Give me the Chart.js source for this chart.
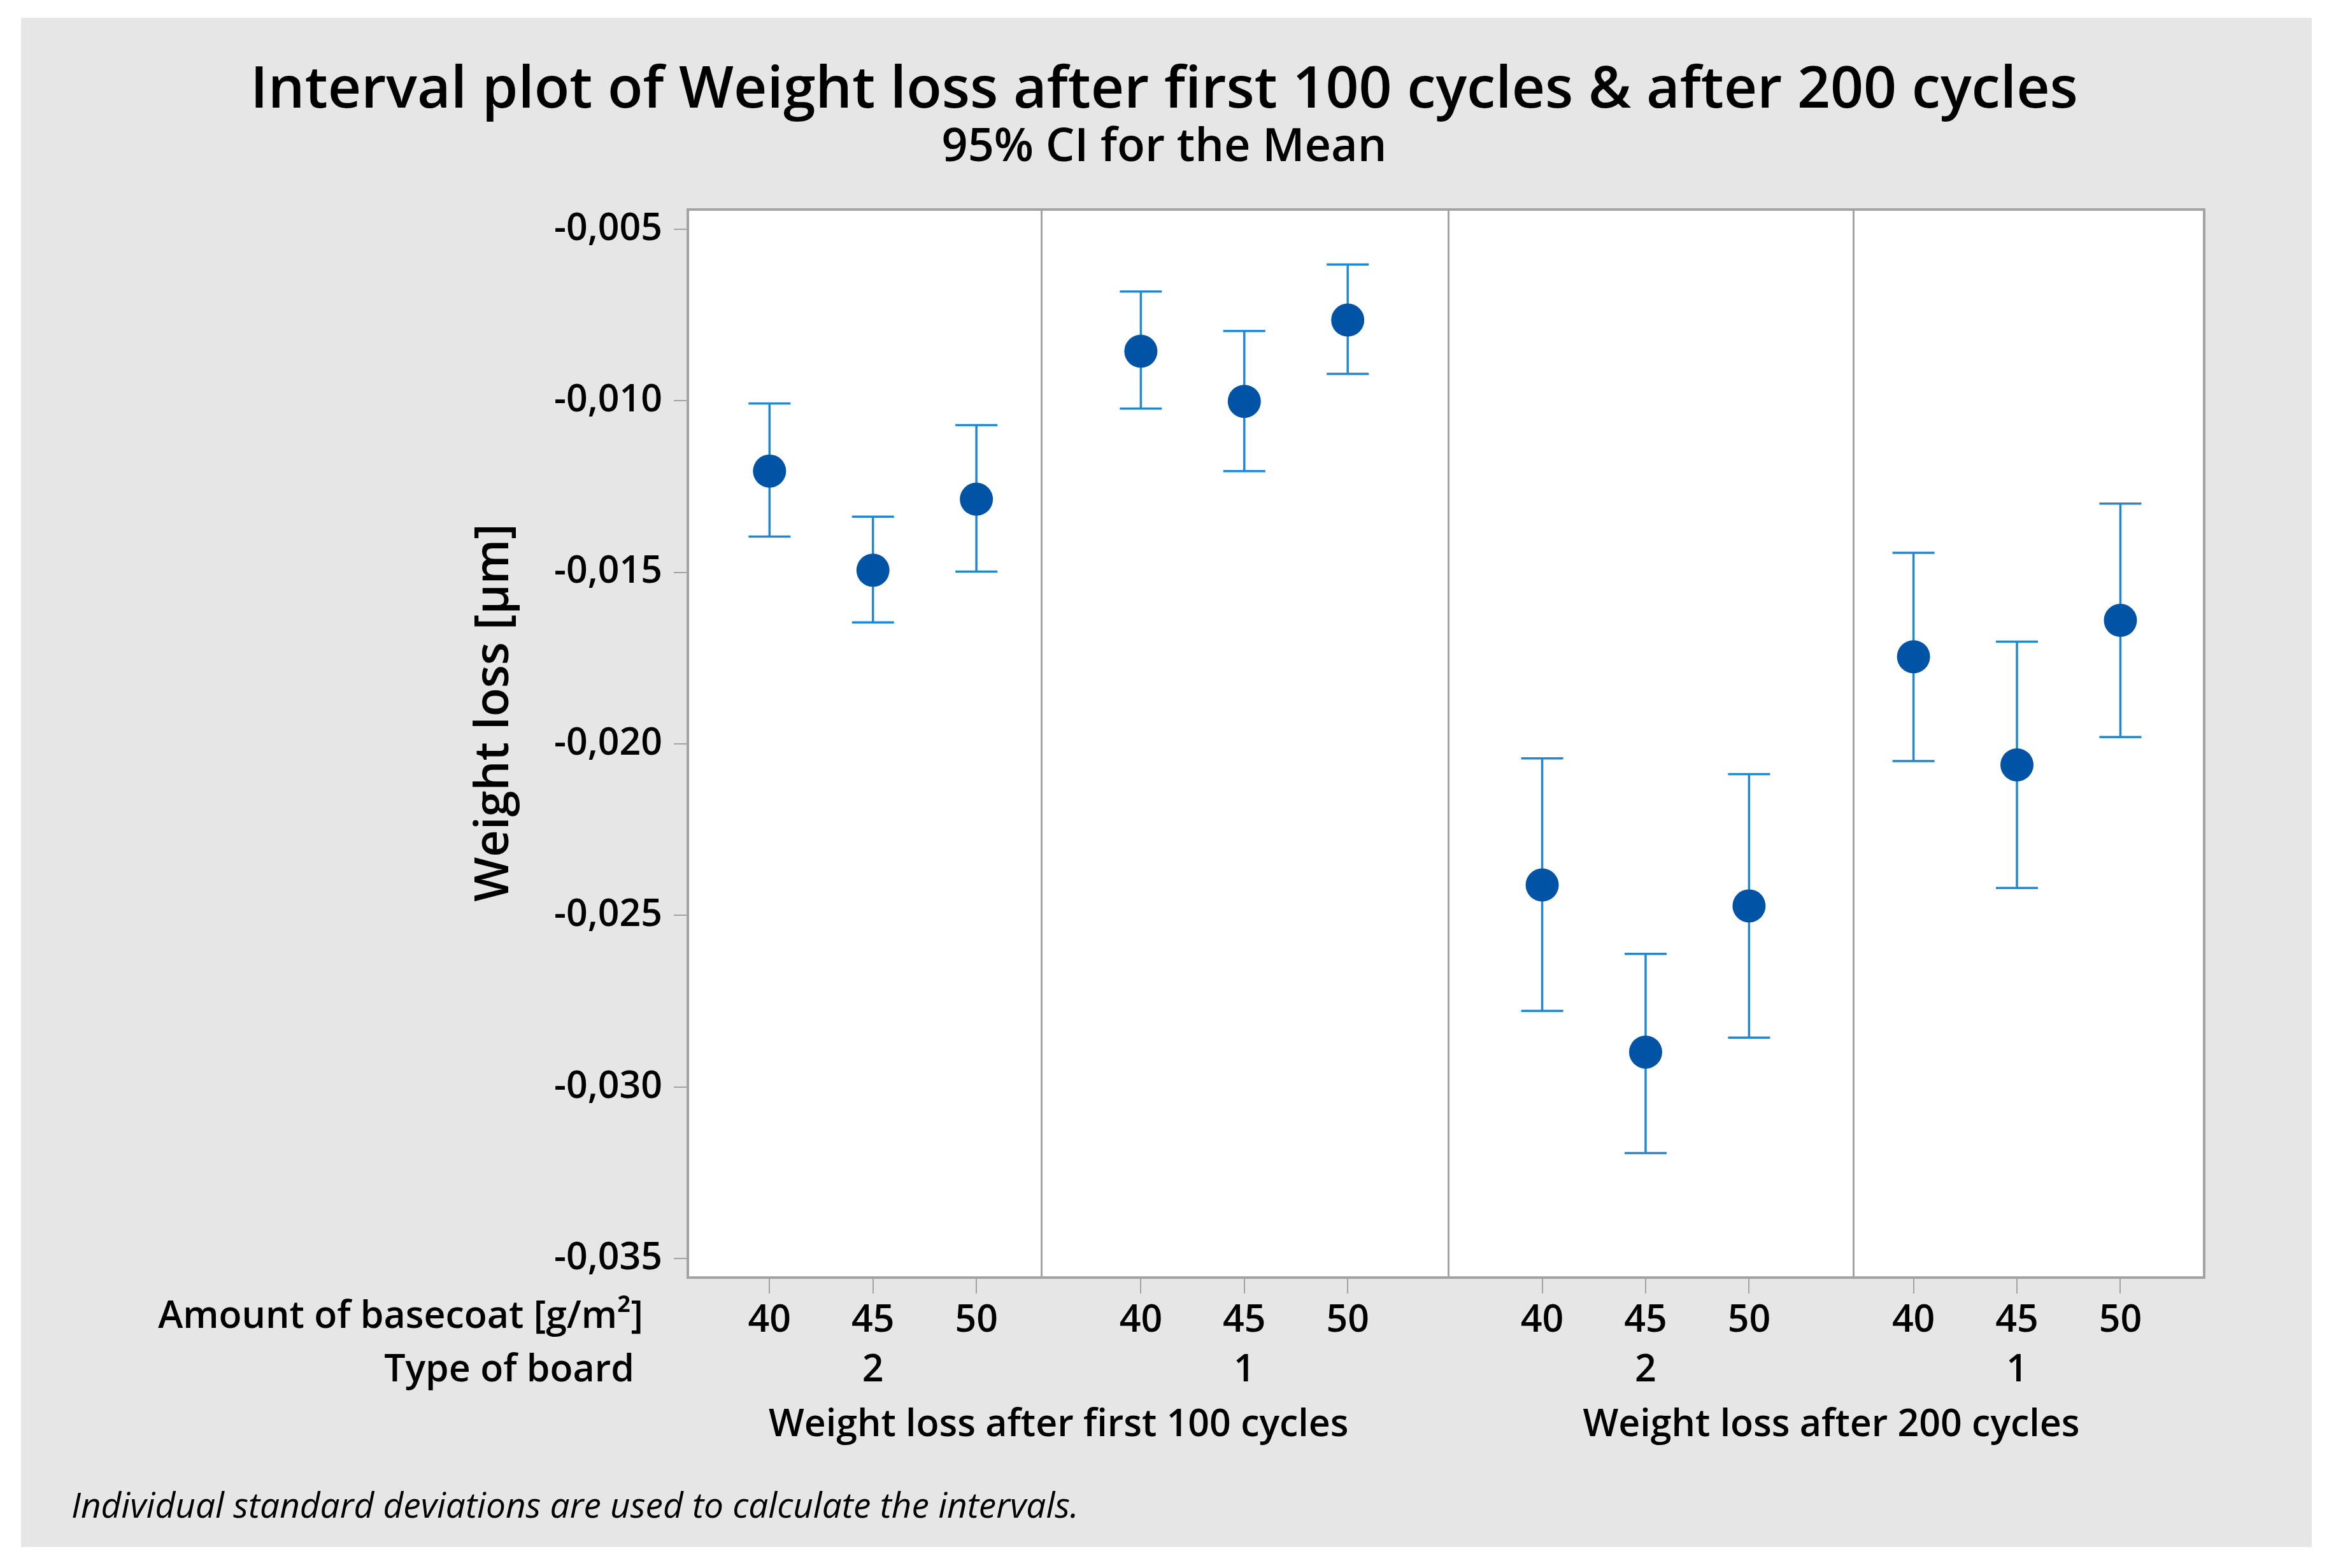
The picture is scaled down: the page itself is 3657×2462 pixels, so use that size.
<!DOCTYPE html>
<html>
<head>
<meta charset="utf-8">
<script src="https://cdn.jsdelivr.net/npm/chart.js@4.4.1/dist/chart.umd.min.js"></script>
<style>
  html, body { margin: 0; padding: 0; background: #ffffff; }
  canvas { display: block; }
</style>
</head>
<body>
<canvas id="intervalChart" width="3657" height="2462"></canvas>
<script>
// ---- data ----
const basecoatLevels = ["40", "45", "50"];
const boardTypes = ["2", "1", "2", "1"];
const phaseLabels = ["Weight loss after first 100 cycles", "Weight loss after 200 cycles"];

// mean and 95% CI per cell (order: phase 100 board 2, phase 100 board 1, phase 200 board 2, phase 200 board 1; basecoat 40/45/50)
const meanLoss = [-0.01205, -0.01494, -0.01287, -0.00856, -0.01002, -0.00765, -0.02411, -0.02898, -0.02472, -0.01746, -0.02061, -0.01640];
const ciUpper = [-0.01008, -0.01338, -0.01071, -0.00682, -0.00797, -0.00603, -0.02042, -0.02612, -0.02088, -0.01443, -0.01702, -0.01300];
const ciLower = [-0.01396, -0.01646, -0.01498, -0.01023, -0.01205, -0.00922, -0.02778, -0.03192, -0.02856, -0.02050, -0.02420, -0.01980];

const yTicks = [-0.005, -0.010, -0.015, -0.020, -0.025, -0.030, -0.035];

// ---- layout (x units = spacing between basecoat levels) ----
const groupOffsets = [0, 3.59, 7.47, 11.06];
const panelDividers = [2.63, 6.56, 10.48];
const xRange = { min: -0.79, max: 13.87 };
const yRange = { min: -0.03555, max: -0.00443 };

const FONT = "'Open Sans', 'Noto Sans', 'DejaVu Sans', sans-serif";
const MARKER = "#0053a5";
const BAR = "#2187d0";
const FRAME = "#a3a3a3";

const xPos = [];
groupOffsets.forEach(off => basecoatLevels.forEach((_, j) => xPos.push(off + j)));
const points = meanLoss.map((m, i) => ({ x: xPos[i], y: m }));

const backgroundPlugin = {
    id: "minitabBackground",
    beforeDraw(chart) {
        const { ctx, chartArea } = chart;
        ctx.save();
        ctx.fillStyle = "#ffffff";
        ctx.fillRect(0, 0, chart.width, chart.height);
        ctx.fillStyle = "#e6e6e6";
        ctx.fillRect(33, 28, 3597, 2401);
        ctx.fillStyle = "#ffffff";
        ctx.fillRect(chartArea.left, chartArea.top, chartArea.right - chartArea.left, chartArea.bottom - chartArea.top);
        ctx.restore();
    }
};

const intervalPlugin = {
    id: "intervalBars",
    beforeDatasetsDraw(chart) {
        const { ctx, chartArea, scales } = chart;
        const x = scales.x, y = scales.y;
        ctx.save();
        // panel dividers
        ctx.strokeStyle = FRAME;
        ctx.lineWidth = 3;
        panelDividers.forEach(d => {
            const px = Math.round(x.getPixelForValue(d)) + 0.5;
            ctx.beginPath();
            ctx.moveTo(px, chartArea.top);
            ctx.lineTo(px, chartArea.bottom);
            ctx.stroke();
        });
        // CI whiskers
        ctx.strokeStyle = BAR;
        ctx.lineWidth = 3.5;
        const capHalf = 33;
        points.forEach((p, i) => {
            const px = x.getPixelForValue(p.x);
            const top = y.getPixelForValue(ciUpper[i]);
            const bot = y.getPixelForValue(ciLower[i]);
            ctx.beginPath();
            ctx.moveTo(px, top);
            ctx.lineTo(px, bot);
            ctx.moveTo(px - capHalf, top);
            ctx.lineTo(px + capHalf, top);
            ctx.moveTo(px - capHalf, bot);
            ctx.lineTo(px + capHalf, bot);
            ctx.stroke();
        });
        ctx.restore();
    },
    afterDraw(chart) {
        const { ctx, chartArea, scales } = chart;
        const x = scales.x;
        ctx.save();
        // plot frame
        ctx.strokeStyle = FRAME;
        ctx.lineWidth = 4;
        ctx.strokeRect(chartArea.left, chartArea.top, chartArea.right - chartArea.left, chartArea.bottom - chartArea.top);

        ctx.fillStyle = "#000000";
        ctx.textBaseline = "middle";

        // titles
        ctx.textAlign = "center";
        ctx.font = "600 91px " + FONT;
        ctx.fillText("Interval plot of Weight loss after first 100 cycles & after 200 cycles", 1828, 143);
        ctx.font = "600 72px " + FONT;
        ctx.fillText("95% CI for the Mean", 1828, 232);

        // y axis title
        ctx.save();
        ctx.translate(777, 1119);
        ctx.rotate(-Math.PI / 2);
        ctx.font = "600 74px " + FONT;
        ctx.fillText("Weight loss [µm]", 0, 0);
        ctx.restore();

        // x axis row captions
        ctx.font = "600 59px " + FONT;
        ctx.textAlign = "right";
        ctx.fillText("Amount of basecoat [g/m²]", 1010, 2068);
        ctx.fillText("Type of board", 996, 2152);

        ctx.textAlign = "center";
        boardTypes.forEach((b, g) => {
            ctx.fillText(b, x.getPixelForValue(groupOffsets[g] + 1), 2152);
        });
        phaseLabels.forEach((label, k) => {
            const first = x.getPixelForValue(groupOffsets[k * 2]);
            const last = x.getPixelForValue(groupOffsets[k * 2 + 1] + 2);
            ctx.fillText(label, (first + last) / 2, 2238);
        });

        // footnote
        ctx.textAlign = "left";
        ctx.font = "italic 55px " + FONT;
        ctx.fillText("Individual standard deviations are used to calculate the intervals.", 112, 2367);
        ctx.restore();
    }
};

const ctx = document.getElementById("intervalChart").getContext("2d");
new Chart(ctx, {
    type: "scatter",
    data: {
        datasets: [{
            label: "Mean",
            data: points,
            pointRadius: 26,
            pointHoverRadius: 26,
            pointBackgroundColor: MARKER,
            pointBorderColor: MARKER,
            pointBorderWidth: 0,
            showLine: false
        }]
    },
    options: {
        responsive: false,
        devicePixelRatio: 1,
        animation: false,
        layout: { padding: { top: 329, right: 196, left: 0, bottom: 0 } },
        plugins: {
            legend: { display: false },
            tooltip: { enabled: false },
            title: { display: false }
        },
        scales: {
            x: {
                type: "linear",
                min: xRange.min,
                max: xRange.max,
                afterBuildTicks: scale => { scale.ticks = xPos.map(v => ({ value: v })); },
                afterFit: scale => { scale.height = 456; },
                grid: { drawOnChartArea: false, drawTicks: true, tickLength: 25, tickColor: FRAME, lineWidth: 2 },
                border: { display: false },
                ticks: {
                    autoSkip: false,
                    maxRotation: 0,
                    padding: 8,
                    color: "#000000",
                    font: { family: FONT, size: 59, weight: "600" },
                    callback: (value, index) => basecoatLevels[index % basecoatLevels.length]
                }
            },
            y: {
                type: "linear",
                min: yRange.min,
                max: yRange.max,
                afterBuildTicks: scale => { scale.ticks = yTicks.map(v => ({ value: v })); },
                afterFit: scale => { scale.width = 1080; },
                grid: { drawOnChartArea: false, drawTicks: true, tickLength: 22, tickColor: FRAME, lineWidth: 2 },
                border: { display: false },
                ticks: {
                    padding: 18,
                    color: "#000000",
                    font: { family: FONT, size: 59, weight: "600" },
                    callback: value => value.toFixed(3).replace(".", ",")
                }
            }
        }
    },
    plugins: [backgroundPlugin, intervalPlugin]
});
</script>
</body>
</html>
